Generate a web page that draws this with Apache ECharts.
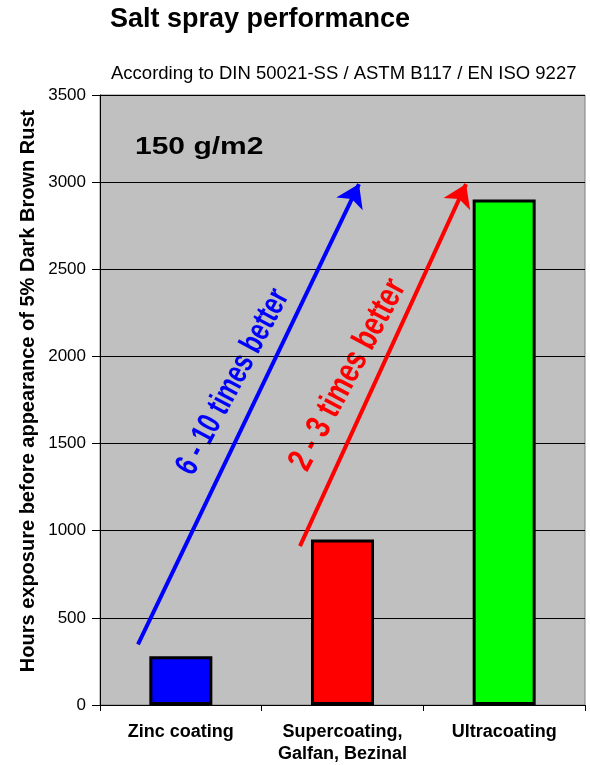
<!DOCTYPE html>
<html>
<head>
<meta charset="utf-8">
<script src="https://cdn.jsdelivr.net/npm/echarts@6/dist/echarts.min.js"></script>
<style>
html,body{margin:0;padding:0;background:#fff;}
#chart{width:590px;height:765px;}
</style>
</head>
<body>
<div id="chart"></div>
<script>
// ---- data ----
const categories = ["Zinc coating", "Supercoating,\nGalfan, Bezinal", "Ultracoating"];
const hours = [280, 950, 2900];
const yTicks = [0, 500, 1000, 1500, 2000, 2500, 3000, 3500];
// annotation arrows in data space: [xPosition (0..3 across categories), hours]
const blueArrow = [[0.235, 348], [1.602, 2989]];
const redArrow = [[1.237, 912], [2.264, 2989]];

const barColors = ["#0000ff", "#ff0000", "#00ff00"];
const FONT = "'Liberation Sans', Arial, sans-serif";

const chart = echarts.init(document.getElementById('chart'), null, {renderer: 'canvas'});

const option = {
  backgroundColor: '#ffffff',
  animation: false,
  title: [
    {text: 'Salt spray performance', left: 105, top: 1,
     textStyle: {fontFamily: FONT, fontSize: 27, fontWeight: 'bold', color: '#000'}},
    {text: 'According to DIN 50021-SS / ASTM B117 / EN ISO 9227', left: 106, top: 59,
     textStyle: {fontFamily: FONT, fontSize: 18.5, fontWeight: 'normal', color: '#000'}}
  ],
  grid: {left: 100, right: 5, top: 95, bottom: 56, show: true,
         backgroundColor: '#c0c0c0', borderColor: '#808080', borderWidth: 1},
  xAxis: [
    {type: 'category', data: categories,
     axisLine: {show: true, lineStyle: {color: '#000', width: 1}},
     axisTick: {show: true, length: 6, lineStyle: {color: '#000'}},
     axisLabel: {interval: 0, margin: 16, fontFamily: FONT, fontSize: 18, fontWeight: 'bold',
                 color: '#000', lineHeight: 22}},
    {type: 'value', min: 0, max: 3, show: false}
  ],
  yAxis: {
    type: 'value', min: 0, max: 3500, interval: 500,
    axisLine: {show: true, lineStyle: {color: '#000', width: 1}},
    axisTick: {show: true, length: 8, lineStyle: {color: '#000'}},
    axisLabel: {margin: 14, fontFamily: FONT, fontSize: 17, color: '#000',
                formatter: v => yTicks.includes(v) ? String(v) : ''},
    splitLine: {show: true, lineStyle: {color: '#000', width: 1}}
  },
  series: [
    {type: 'bar', xAxisIndex: 0, barWidth: 63,
     data: hours.map((v, i) => ({value: v, itemStyle: {color: barColors[i]}})),
     itemStyle: {borderColor: '#000', borderWidth: 3}},
    {type: 'lines', coordinateSystem: 'cartesian2d', xAxisIndex: 1, yAxisIndex: 0,
     silent: true, symbol: ['none', 'arrow'], symbolSize: 22, z: 5,
     data: [
       {coords: blueArrow, lineStyle: {color: '#0000ff', width: 4, opacity: 1}},
       {coords: redArrow, lineStyle: {color: '#ff0000', width: 4, opacity: 1}}
     ]}
  ],
  graphic: [
    {type: 'text', x: 28, y: 391, rotation: Math.PI / 2,
     style: {text: 'Hours exposure before appearance of 5% Dark Brown Rust', fill: '#000',
             font: 'bold 20px ' + FONT, align: 'center', verticalAlign: 'middle'}},
    {type: 'text', x: 135, y: 147, scaleX: 1.25,
     style: {text: '150 g/m2', fill: '#000', font: 'bold 24px ' + FONT,
             align: 'left', verticalAlign: 'middle'}},
    {type: 'text', x: 233, y: 382, rotation: 62 * Math.PI / 180, scaleX: 0.73,
     style: {text: '6 - 10 times better', fill: '#0000ff', font: 'bold 33px ' + FONT,
             align: 'center', verticalAlign: 'middle'}},
    {type: 'text', x: 348, y: 375, rotation: 62 * Math.PI / 180, scaleX: 0.76,
     style: {text: '2 - 3 times better', fill: '#ff0000', font: 'bold 35px ' + FONT,
             align: 'center', verticalAlign: 'middle'}}
  ]
};
chart.setOption(option);
</script>
</body>
</html>
